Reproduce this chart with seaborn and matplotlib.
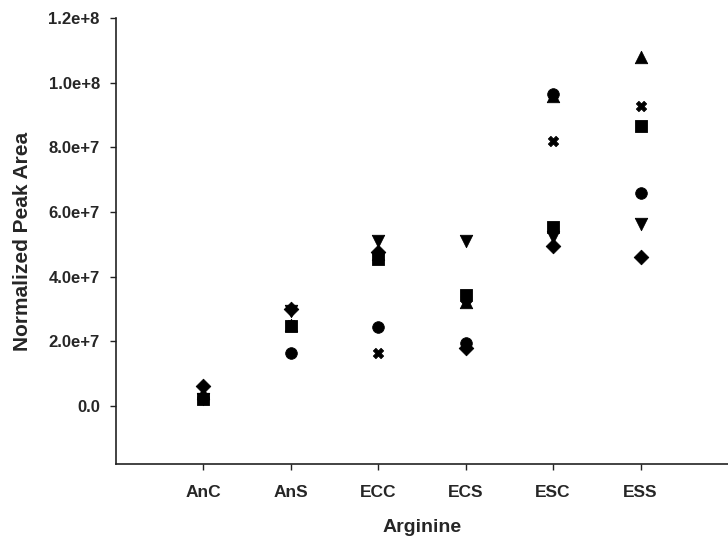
import matplotlib
matplotlib.use("Agg")
import matplotlib.pyplot as plt
import seaborn as sns
import pandas as pd

# Arginine peak areas per sample group, one list per replicate series
groups = ["AnC", "AnS", "ECC", "ECS", "ESC", "ESS"]
rep_circle = [2.5e6, 1.64e7, 2.45e7, 1.95e7, 9.65e7, 6.60e7]
rep_tri_up = [4.0e6, 2.50e7, 4.70e7, 3.20e7, 9.58e7, 1.08e8]
rep_tri_down = [2.0e6, 2.95e7, 5.10e7, 5.10e7, 5.24e7, 5.64e7]
rep_square = [2.0e6, 2.48e7, 4.55e7, 3.44e7, 5.55e7, 8.65e7]
rep_diamond = [6.0e6, 3.00e7, 4.75e7, 1.80e7, 4.95e7, 4.62e7]
rep_cross = [2.2e6, 2.50e7, 1.64e7, 3.30e7, 8.20e7, 9.27e7]

y_ticks = [0.0, 2e7, 4e7, 6e7, 8e7, 1.0e8, 1.2e8]
y_tick_labels = ["0.0", "2.0e+7", "4.0e+7", "6.0e+7", "8.0e+7", "1.0e+8", "1.2e+8"]

series = {
    "circle": (rep_circle, "o"),
    "tri_up": (rep_tri_up, "^"),
    "tri_down": (rep_tri_down, "v"),
    "square": (rep_square, "s"),
    "diamond": (rep_diamond, "D"),
    "cross": (rep_cross, "X"),
}

rows = []
for name, (vals, _) in series.items():
    for i, (g, v) in enumerate(zip(groups, vals)):
        rows.append({"pos": i + 1, "group": g, "value": v, "rep": name})
df = pd.DataFrame(rows)

sns.set_style("white")
plt.rcParams["font.family"] = ["Liberation Sans", "DejaVu Sans"]

fig = plt.figure(figsize=(7.28, 5.37), dpi=100)
ax = fig.add_axes([0.159, 0.136, 0.841, 0.830])

markers = {k: m for k, (_, m) in series.items()}
sizes = {"circle": 70, "tri_up": 80, "tri_down": 80, "square": 70,
         "diamond": 55, "cross": 55}
for name in series:
    sub = df[df["rep"] == name]
    sns.scatterplot(data=sub, x="pos", y="value", marker=markers[name],
                    color="black", edgecolor="black", s=sizes[name],
                    linewidth=0.6, ax=ax, legend=False, zorder=3)

ax.set_xlim(0, 7)
ax.set_ylim(-1.8e7, 1.2e8)
ax.set_xticks(range(1, len(groups) + 1))
ax.set_xticklabels(groups, fontsize=12.5, fontweight="bold")
ax.set_yticks(y_ticks)
ax.set_yticklabels(y_tick_labels, fontsize=12, fontweight="bold")

for side in ["top", "right"]:
    ax.spines[side].set_visible(False)
for side in ["left", "bottom"]:
    ax.spines[side].set_color("#222222")
    ax.spines[side].set_linewidth(1.2)

ax.tick_params(axis="both", direction="out", length=4.5, width=1.0,
               color="#222222", left=True, bottom=True)
ax.tick_params(axis="y", pad=7)
ax.tick_params(axis="x", pad=11)

ax.set_xlabel("Arginine", fontsize=14, fontweight="bold", labelpad=13)
ax.set_ylabel("Normalized Peak Area", fontsize=15, fontweight="bold", labelpad=12)

fig.savefig("out.png", dpi=100)
